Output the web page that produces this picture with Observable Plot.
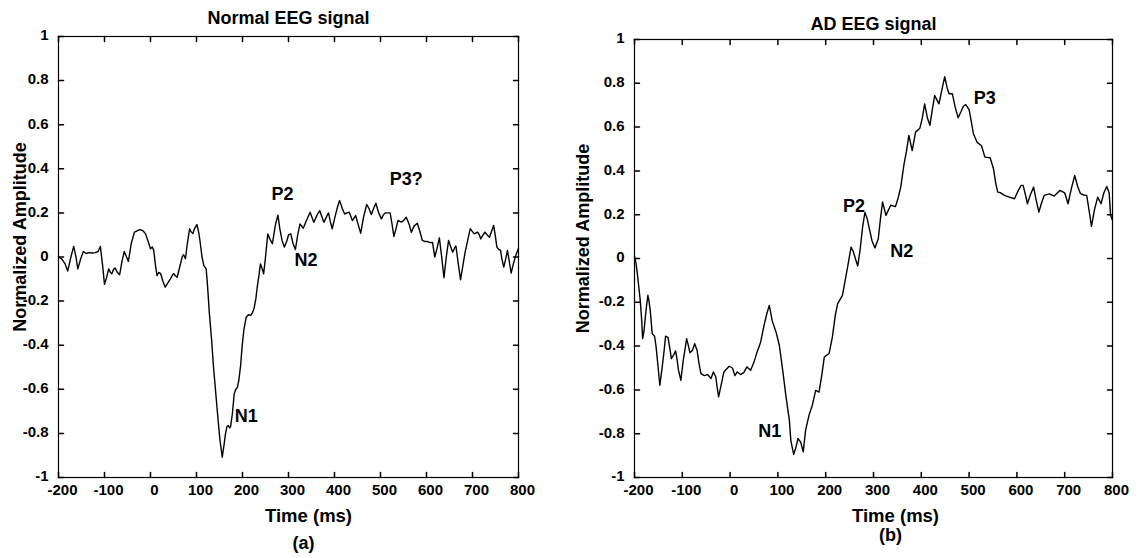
<!DOCTYPE html>
<html><head><meta charset="utf-8">
<script src="https://cdn.jsdelivr.net/npm/d3@7"></script>
<script src="https://cdn.jsdelivr.net/npm/@observablehq/plot@0.6"></script>
<style>
body{margin:0;background:#fff}
#wrap{display:flex;width:1140px;height:558px}
svg{display:block}
</style>
</head><body><div id="wrap"><div id="a"></div><div id="b"></div></div>
<script>
// ---- data ----
const xTicks = [-200, -100, 0, 100, 200, 300, 400, 500, 600, 700, 800];
const yTicks = [-1, -0.8, -0.6, -0.4, -0.2, 0, 0.2, 0.4, 0.6, 0.8, 1];
const titles = ["Normal EEG signal", "AD EEG signal"];
const panelLabels = ["(a)", "(b)"];
const xLabel = "Time (ms)";
const yLabel = "Normalized Amplitude";

// [time ms, normalized amplitude]
const normalEEG = [
[-200,0.00],[-193,-0.008],[-186,-0.03],[-180,-0.064],[-173,0.0],[-167,0.048],[-162,0.0],[-158,-0.054],
[-152,-0.01],[-146,0.025],[-140,0.016],[-133,0.02],[-127,0.018],[-120,0.02],[-114,0.025],[-109,0.048],
[-104,-0.04],[-100,-0.124],[-95,-0.09],[-91,-0.054],[-87,-0.07],[-84,-0.076],[-80,-0.055],[-77,-0.05],
[-72,-0.07],[-67,-0.08],[-62,-0.02],[-57,0.025],[-52,0.0],[-48,-0.02],[-42,0.06],[-35,0.113],[-28,0.12],
[-22,0.124],[-16,0.118],[-11,0.106],[-5,0.07],[0,0.037],[4,0.045],[7,0.03],[11,-0.04],[14,-0.084],
[18,-0.07],[22,-0.075],[27,-0.11],[32,-0.137],[37,-0.12],[43,-0.1],[47,-0.085],[50,-0.075],[54,-0.085],
[58,-0.092],[63,-0.05],[69,0.002],[72,0.01],[76,-0.008],[80,0.06],[85,0.128],[88,0.115],[92,0.106],
[96,0.13],[101,0.147],[105,0.11],[108,0.067],[112,0.0],[116,-0.039],[121,-0.054],[124,-0.13],[128,-0.257],
[133,-0.38],[137,-0.5],[142,-0.62],[147,-0.741],[151,-0.83],[156,-0.908],[160,-0.85],[163,-0.802],
[166,-0.77],[169,-0.764],[172,-0.775],[174,-0.77],[178,-0.711],[182,-0.62],[185,-0.602],[189,-0.59],
[192,-0.56],[196,-0.49],[199,-0.41],[203,-0.33],[208,-0.273],[213,-0.262],[218,-0.265],[221,-0.255],
[225,-0.235],[229,-0.19],[232,-0.137],[236,-0.08],[239,-0.031],[243,-0.055],[246,-0.076],[250,0.0],
[255,0.105],[258,0.09],[261,0.075],[265,0.06],[268,0.1],[272,0.15],[277,0.19],[281,0.13],[286,0.075],
[291,0.045],[296,0.07],[300,0.1],[305,0.105],[310,0.06],[315,0.034],[320,0.1],[325,0.15],[332,0.13],
[340,0.17],[347,0.203],[351,0.18],[355,0.157],[362,0.19],[368,0.21],[373,0.18],[377,0.157],[382,0.18],
[387,0.2],[391,0.16],[395,0.128],[402,0.19],[407,0.23],[411,0.256],[417,0.22],[422,0.195],[427,0.2],
[432,0.203],[439,0.165],[446,0.188],[451,0.15],[457,0.108],[463,0.18],[470,0.238],[475,0.22],[480,0.193],
[485,0.22],[490,0.244],[496,0.2],[502,0.173],[506,0.19],[510,0.2],[516,0.2],[521,0.2],[525,0.15],
[529,0.093],[534,0.13],[538,0.166],[543,0.16],[547,0.16],[552,0.17],[556,0.18],[562,0.15],[567,0.112],
[573,0.14],[580,0.153],[585,0.12],[591,0.075],[597,0.07],[602,0.07],[608,0.065],[613,0.066],[618,0.0],
[623,0.04],[628,0.087],[633,0.0],[638,-0.094],[643,0.0],[648,0.075],[652,0.05],[657,0.022],[661,0.04],
[664,0.05],[669,-0.03],[674,-0.103],[679,-0.04],[684,0.022],[690,0.08],[695,0.128],[700,0.115],
[704,0.105],[708,0.11],[711,0.113],[715,0.1],[718,0.082],[723,0.1],[727,0.113],[732,0.1],[737,0.09],
[742,0.12],[746,0.143],[750,0.09],[753,0.045],[757,0.035],[761,0.03],[764,-0.01],[768,-0.046],[772,-0.01],
[776,0.03],[780,-0.02],[784,-0.073],[789,-0.03],[795,0.013],[800,0.04]
];

const adEEG = [
[-200,0.01],[-197,-0.02],[-194,-0.069],[-191,-0.13],[-188,-0.191],[-185,-0.28],[-183,-0.366],[-180,-0.33],
[-178,-0.282],[-175,-0.22],[-172,-0.168],[-170,-0.19],[-167,-0.237],[-163,-0.343],[-158,-0.355],
[-155,-0.4],[-152,-0.465],[-147,-0.579],[-142,-0.495],[-138,-0.42],[-135,-0.355],[-130,-0.36],
[-126,-0.41],[-123,-0.457],[-118,-0.44],[-114,-0.422],[-111,-0.46],[-108,-0.51],[-103,-0.556],
[-98,-0.465],[-94,-0.41],[-91,-0.366],[-87,-0.4],[-84,-0.43],[-79,-0.42],[-74,-0.389],[-69,-0.42],
[-65,-0.48],[-61,-0.526],[-54,-0.535],[-47,-0.53],[-40,-0.548],[-35,-0.518],[-30,-0.54],[-27,-0.59],
[-24,-0.632],[-18,-0.57],[-13,-0.518],[-2,-0.492],[5,-0.5],[10,-0.535],[15,-0.518],[22,-0.53],[29,-0.52],
[35,-0.495],[43,-0.51],[50,-0.473],[56,-0.43],[64,-0.381],[71,-0.305],[77,-0.25],[82,-0.214],[88,-0.284],
[96,-0.335],[103,-0.396],[110,-0.51],[117,-0.632],[124,-0.739],[127,-0.83],[133,-0.894],[138,-0.86],
[142,-0.822],[148,-0.84],[153,-0.883],[158,-0.784],[165,-0.716],[172,-0.67],[179,-0.602],[186,-0.61],
[192,-0.53],[197,-0.45],[207,-0.434],[214,-0.359],[220,-0.26],[225,-0.206],[235,-0.168],[242,-0.085],
[247,-0.024],[253,0.052],[258,0.03],[262,0.0],[267,-0.034],[272,0.04],[277,0.14],[282,0.21],[287,0.18],
[291,0.14],[297,0.08],[303,0.048],[310,0.09],[315,0.19],[319,0.258],[326,0.197],[336,0.243],[346,0.237],
[352,0.28],[357,0.326],[364,0.433],[369,0.49],[374,0.562],[381,0.493],[388,0.577],[397,0.595],[402,0.64],
[407,0.706],[413,0.64],[418,0.608],[423,0.68],[428,0.744],[437,0.706],[443,0.77],[449,0.83],[454,0.78],
[458,0.752],[465,0.752],[471,0.69],[477,0.643],[483,0.67],[488,0.695],[493,0.703],[500,0.68],[505,0.62],
[509,0.57],[517,0.53],[526,0.515],[533,0.463],[544,0.46],[551,0.41],[556,0.34],[560,0.303],[566,0.3],
[574,0.288],[584,0.28],[595,0.273],[603,0.311],[609,0.334],[613,0.334],[618,0.29],[622,0.25],[628,0.29],
[635,0.326],[640,0.27],[646,0.212],[651,0.25],[657,0.288],[668,0.295],[678,0.285],[690,0.311],[700,0.3],
[707,0.25],[714,0.32],[721,0.379],[727,0.33],[733,0.296],[740,0.29],[746,0.288],[751,0.22],[756,0.147],
[762,0.22],[769,0.28],[776,0.25],[782,0.3],[788,0.329],[793,0.3],[796,0.197],[800,0.175]
];

// component annotations: [label, time, amplitude]
const normalPeaks = [["N1",208,-0.723],["P2",287,0.285],["N2",338,-0.016],["P3?",556,0.353]];
const adPeaks = [["N1",83,-0.789],["P2",259,0.238],["N2",359,0.033],["P3",533,0.733]];

// ---- drawing ----
const FONT = "'Liberation Sans', Arial, Helvetica, sans-serif";
const fmt = d => String(+(+d).toFixed(1));
const tickShape = {draw(ctx, l) { ctx.moveTo(0, 0); ctx.lineTo(0, -l); }};

function panel({data, peaks, title, tag, width, mL, mR, mT, titleDy, timeDx, tagDx, tagDy, yLabDx}) {
  const T = 5;
  return Plot.plot({
    width, height: 558,
    marginLeft: mL, marginRight: mR, marginTop: mT, marginBottom: 81,
    style: {fontFamily: FONT, background: "white", color: "black", overflow: "visible"},
    x: {domain: [-200, 800], label: null},
    y: {domain: [-1, 1], label: null},
    marks: [
      Plot.frame({stroke: "black", strokeWidth: 1.2}),
      Plot.vector(xTicks, {x: d => d, frameAnchor: "bottom", length: T, rotate: 0, anchor: "start", shape: tickShape, stroke: "black"}),
      Plot.vector(xTicks, {x: d => d, frameAnchor: "top", length: T, rotate: 180, anchor: "start", shape: tickShape, stroke: "black"}),
      Plot.vector(yTicks, {y: d => d, frameAnchor: "left", length: T, rotate: 90, anchor: "start", shape: tickShape, stroke: "black"}),
      Plot.vector(yTicks, {y: d => d, frameAnchor: "right", length: T, rotate: -90, anchor: "start", shape: tickShape, stroke: "black"}),
      Plot.axisX({ticks: xTicks, tickSize: 0, tickPadding: 7, dx: 4, tickFormat: fmt, fontSize: 15, fontWeight: "bold"}),
      Plot.axisY({ticks: yTicks, tickSize: 0, tickPadding: 10, dy: -1, tickFormat: fmt, fontSize: 15, fontWeight: "bold"}),
      Plot.line(data, {x: d => d[0], y: d => d[1], stroke: "black", strokeWidth: 1.4, curve: "linear"}),
      Plot.text(peaks, {x: d => d[1], y: d => d[2], text: d => d[0], fontSize: 18, fontWeight: "bold", textAnchor: "middle", lineAnchor: "middle"}),
      Plot.text([title], {frameAnchor: "top", text: d => d, lineAnchor: "bottom", dy: titleDy, dx: 0, fontSize: 18, fontWeight: "bold"}),
      Plot.text([xLabel], {frameAnchor: "bottom", text: d => d, lineAnchor: "bottom", dy: 44, dx: timeDx, fontSize: 18.5, fontWeight: "bold"}),
      Plot.text([tag], {frameAnchor: "bottom", text: d => d, lineAnchor: "bottom", dy: tagDy, dx: tagDx, fontSize: 18, fontWeight: "bold"}),
      Plot.text([yLabel], {frameAnchor: "left", text: d => d, rotate: -90, lineAnchor: "middle", textAnchor: "middle", dx: yLabDx, dy: -20, fontSize: 18, fontWeight: "bold"})
    ]
  });
}

document.getElementById("a").append(panel({
  data: normalEEG, peaks: normalPeaks, title: titles[0], tag: panelLabels[0],
  width: 560, mL: 58, mR: 42, mT: 36, titleDy: -12.5, timeDx: 20, tagDx: 15, tagDy: 71, yLabDx: -38.5
}));
document.getElementById("b").append(panel({
  data: adEEG, peaks: adPeaks, title: titles[1], tag: panelLabels[1],
  width: 580, mL: 74, mR: 28, mT: 39, titleDy: -9.5, timeDx: 22, tagDx: 17, tagDy: 63, yLabDx: -51
}));
</script>
</body></html>
